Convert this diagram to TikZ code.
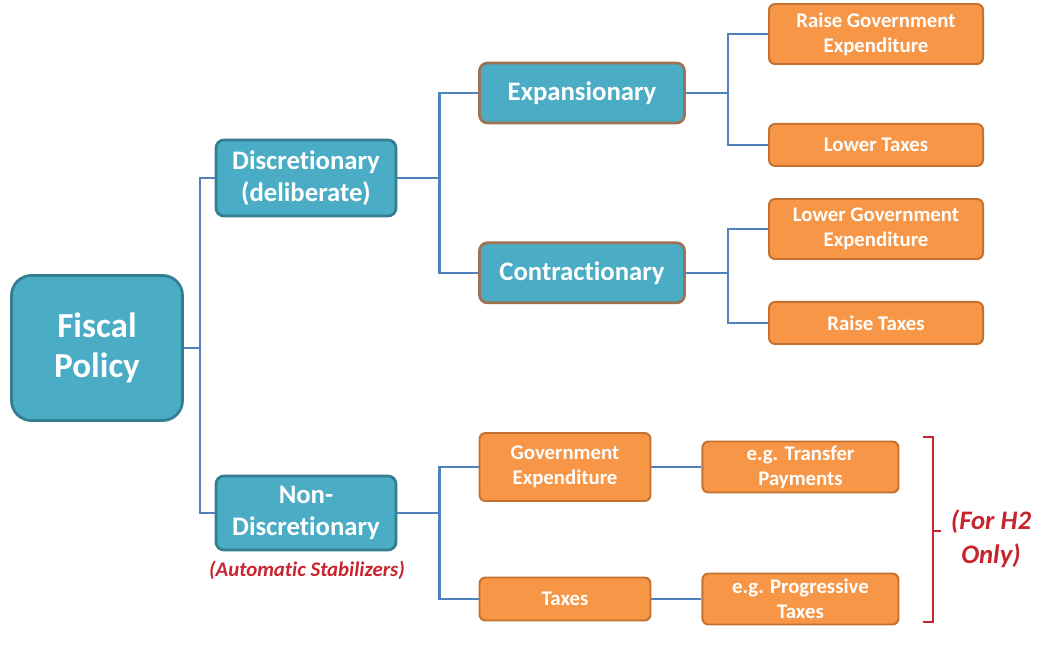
\documentclass[tikz,border=0pt]{standalone}
\usepackage{fontspec}
\setmainfont{Carlito}[Ligatures=NoCommon]
\usetikzlibrary{positioning}
\definecolor{tealfill}{HTML}{4BACC6}
\definecolor{tealedge}{HTML}{357D91}
\definecolor{tanedge}{HTML}{9E7352}
\definecolor{orangefill}{HTML}{F79646}
\definecolor{orangeedge}{HTML}{C4702F}
\definecolor{linkblue}{HTML}{4F81BD}
\definecolor{notered}{HTML}{C8242E}

\begin{document}
\begin{tikzpicture}[x=0.25mm, y=-0.25mm, node distance=12mm,
  policy/.style={draw=tealedge, line width=2pt, fill=tealfill, rounded corners=2mm, text=white,
    font=\fontsize{19}{23}\selectfont\bfseries, align=center, inner sep=0pt},
  measure/.style={draw=orangeedge, line width=1.4pt, fill=orangefill, rounded corners=1.5mm, text=white,
    font=\fontsize{14.8}{17.8}\selectfont\bfseries, align=center, inner sep=0pt},
  link/.style={draw=linkblue, line width=1.6pt},
  note/.style={text=notered, align=center}]
\useasboundingbox (0,0) rectangle (1041,644);

\node[policy, minimum width=42.75mm, minimum height=36.25mm, rounded corners=5mm,
  font=\fontsize{25}{29}\selectfont\bfseries] (fp) at (97,348) {Fiscal\\Policy};
\node[policy, minimum width=45mm, minimum height=19mm] (disc) at (306,178) {Discretionary\\(deliberate)};
\node[policy, minimum width=45mm, minimum height=18.5mm] (nondisc) at (306,513) {Non-\\Discretionary};
\node[note, font=\fontsize{14.8}{17}\selectfont\bfseries\itshape] (auto) at (307,570) {(Automatic Stabilizers)};

\node[policy, draw=tanedge, minimum width=51.25mm, minimum height=15mm] (exp) at (582,93) {Expansionary};
\node[policy, draw=tanedge, minimum width=51.25mm, minimum height=15mm, below=29.25mm of exp] (con) {Contractionary};

  \node[measure, minimum width=53.5mm, minimum height=15mm] (rge) at (876,34) {Raise Government\\Expenditure};
  \node[measure, minimum width=53.5mm, minimum height=10.5mm, below=14.5mm of rge] (lt) {Lower Taxes};
  \node[measure, minimum width=53.5mm, minimum height=15mm] (lge) at (876,229) {Lower Government\\Expenditure};
  \node[measure, minimum width=53.5mm, minimum height=10.5mm, below=10.25mm of lge] (rt) {Raise Taxes};

  \node[measure, minimum width=42.75mm, minimum height=17mm] (ge) at (565,467) {Government\\Expenditure};
  \node[measure, minimum width=42.75mm, minimum height=10.75mm] (tx) at (565,599) {Taxes};
  \node[measure, minimum width=49mm, minimum height=12.75mm, right=12.5mm of ge] (tp) {e.g. Transfer\\Payments};
  \node[measure, minimum width=49mm, minimum height=12.75mm, right=12.5mm of tx] (pt) {e.g. Progressive\\Taxes};

\draw[link] (fp.east) -- ++(16,0) |- (disc.west);
\draw[link] (fp.east) -- ++(16,0) |- (nondisc.west);
\draw[link] (disc.east) -- ++(42,0) |- (exp.west);
\draw[link] (disc.east) -- ++(42,0) |- (con.west);
\draw[link] (exp.east) -- ++(42,0) |- (rge.west);
\draw[link] (exp.east) -- ++(42,0) |- (lt.west);
\draw[link] (con.east) -- ++(42,0) |- (lge.west);
\draw[link] (con.east) -- ++(42,0) |- (rt.west);
\draw[link] (nondisc.east) -- ++(42,0) |- (ge.west);
\draw[link] (nondisc.east) -- ++(42,0) |- (tx.west);
\draw[link] (ge.east) -- (tp.west);
\draw[link] (tx.east) -- (pt.west);

% bracket for the H2 note
\coordinate (brace) at (933,531);
\draw[notered, line width=1.2pt] (brace) ++(-10,-94) -- ++(10,0) -- ++(0,185) -- ++(-10,0);
\draw[notered, line width=1.2pt] (brace) -- ++(8,0);
\node[note, font=\fontsize{19}{24}\selectfont\bfseries\itshape] (h2) at (991,539) {(For H2\\Only)};

\end{tikzpicture}
\end{document}
